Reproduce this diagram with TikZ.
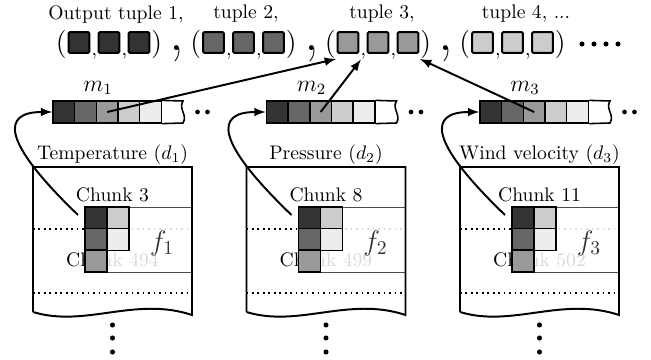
\documentclass[tikz,border=0pt]{standalone}
\usepackage{amsmath}
\usepackage{amssymb}
\usepackage{tikz}
\usetikzlibrary{arrows, positioning}

\begin{document}
\begin{tikzpicture}[x=0.51pt, y=-0.51pt,
        cell/.style={rectangle, draw, thick, inner sep=0pt, minimum size=11.05pt},
        gcell/.style={rectangle, draw, thick, inner sep=0pt, minimum size=11.2pt},
        tbox/.style={rectangle, draw, line width=1pt, rounded corners=0.6pt, inner sep=0pt, minimum size=10.6pt},
        paren/.style={inner sep=0pt, font=\Large},
        bigcomma/.style={inner sep=0pt, font=\fontsize{30}{30}\selectfont},
        doc/.style={line width=1pt},
        cover/.style={draw=black!70, fill=white, fill opacity=0.85}]
        \useasboundingbox (0,0) rectangle (651,360);

        % output tuples
        \node (out1) at (116,14) {Output tuple 1,};
        \node (out2) at (246,14) {tuple 2,};
        \node (out3) at (382,14) {tuple 3,};
        \node (out4) at (526,14) {tuple 4, ...};
        \foreach \k/\c in {1/80, 2/60, 3/40, 4/20} {
            \node[tbox, fill=black!\c] (t\k-1) at ({79+(\k-1)*134.5},42.5) {};
            \node[tbox, fill=black!\c] (t\k-2) [right=3.7pt of t\k-1] {};
            \node[tbox, fill=black!\c] (t\k-3) [right=3.7pt of t\k-2] {};
            \node[paren] (lp\k) [left=0.3pt of t\k-1, yshift=-1pt] {(};
            \node[paren] (rp\k) [right=0.3pt of t\k-3, yshift=-1pt] {)};
            \node[inner sep=0pt] (c\k-1) [below right=-0.5pt and 0.5pt of t\k-1.south east] {,};
            \node[inner sep=0pt] (c\k-2) [below right=-0.5pt and 0.5pt of t\k-2.south east] {,};
        }
        \foreach \k in {1,2,3}
            \node[bigcomma] (bc\k) at ({177+(\k-1)*134.5},54) {,};
        \foreach \x in {582,594,606,618}
            \fill (\x,44) circle[radius=1.3pt];

        % data sets, chunks and memory arrays
        \foreach \g/\dname/\cnum/\oldnum in {1/Temperature/3/494, 2/Pressure/8/499, 3/Wind velocity/11/502} {
            \begin{scope}[shift={({(\g-1)*213.5},0)}]
                \draw[thick, dotted] (33,229) -- (192,229);
                \draw[thick, dotted] (33,293) -- (192,293);
                \node (old\g) at (112.5,260) {Chunk \oldnum};
                \draw[cover] (85,207) rectangle (192,272);
                \draw[doc] (33,312) -- (33,167) -- (192,167) -- (192,315) .. controls (135,296) and (85,328) .. (33,312);
                \node (name\g) at (112.5,155) {\dname\ ($d_\g$)};
                \node (chunk\g) at (112.5,195) {Chunk \cnum};
                \node[font=\Large, text=black!80] (f\g) at (162,243) {$f_\g$};
                \foreach \i/\j/\c in {1/1/80, 1/2/60, 1/3/40, 2/1/20, 2/2/7}
                    \node[gcell, fill=black!\c] (g\g-\i\j) at ({85+22*(\i-0.5)},{207+21.7*(\j-0.5)}) {};
                \foreach \y in {325,338,352}
                    \fill (112.5,\y) circle[radius=1.3pt];

                \foreach \i/\c in {1/80, 2/60, 3/40, 4/20, 5/7}
                    \node[cell, fill=black!\c] (m\g-\i) at ({53+21.67*(\i-0.5)},112) {};
                \draw[thick] (m\g-5.north east) -- (183,101) .. controls (178,109) and (188,115) .. (183,123) -- (m\g-5.south east);
                \node[font=\large] (mlab\g) at (98,88) {$m_\g$};
                \fill (197.5,112) circle[radius=1.2pt] (207.5,112) circle[radius=1.2pt];

                \coordinate (ptr\g) at (78,215);
                \draw[-latex, line width=1pt] (ptr\g) .. controls +(-78,-75) and +(-50,0) .. (m\g-1.west);
            \end{scope}
        }

        \path[-latex] (m1-3.center) edge [line width=1pt] (lp3.south east);
        \path[-latex] (m2-3.center) edge [line width=1pt] (c3-1);
        \path[-latex] (m3-3.center) edge [line width=1pt] (rp3.south west);
    \end{tikzpicture}
\end{document}
